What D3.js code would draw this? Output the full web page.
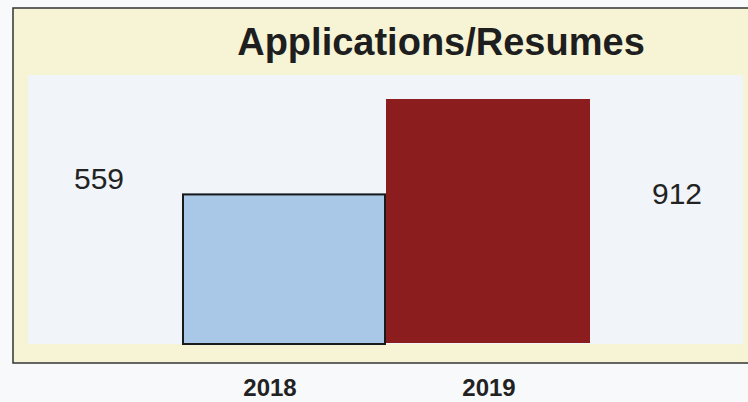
<!DOCTYPE html>
<html>
<head>
<meta charset="utf-8">
<script src="https://cdn.jsdelivr.net/npm/d3@7"></script>
<style>
  html, body { margin: 0; padding: 0; background: #f8f9fb; }
  svg { display: block; font-family: "Liberation Sans", Arial, sans-serif; }
</style>
</head>
<body>
<svg id="chart" width="748" height="402"></svg>
<script>
const categories = [ "2018", "2019" ];
const values = [ 559, 912 ];
const title = "Applications/Resumes";

const FRAME = { left: 13, top: 8, right: 760, bottom: 363 };
const PLOT = { left: 28, top: 75, right: 743, bottom: 343 };

const svg = d3.select( "#chart" );

// outer pale yellow frame
svg.append( "rect" )
  .attr( "x", FRAME.left )
  .attr( "y", FRAME.top )
  .attr( "width", FRAME.right - FRAME.left )
  .attr( "height", FRAME.bottom - FRAME.top )
  .attr( "fill", "#f7f4d6" )
  .attr( "stroke", "#333" )
  .attr( "stroke-width", 1.5 );

// plot area
svg.append( "rect" )
  .attr( "x", PLOT.left )
  .attr( "y", PLOT.top )
  .attr( "width", PLOT.right - PLOT.left )
  .attr( "height", PLOT.bottom - PLOT.top + 1 )
  .attr( "fill", "#f1f4f9" );

const x = d3.scaleBand()
  .domain( categories )
  .range( [ 182, 590 ] )
  .padding( 0 );

const y = d3.scaleLinear()
  .domain( [ 0, d3.max( values ) ] )
  .range( [ PLOT.bottom, 99 ] );

const data = categories.map( ( c, i ) => ( { cat: c, value: values[i] } ) );
const fills = [ "#a9c7e7", "#8c1d1e" ];

svg.selectAll( "rect.bar" )
  .data( data )
  .join( "rect" )
  .attr( "class", "bar" )
  .attr( "x", d => x( d.cat ) )
  .attr( "y", d => y( d.value ) )
  .attr( "width", x.bandwidth() )
  .attr( "height", d => y( 0 ) - y( d.value ) )
  .attr( "fill", ( d, i ) => fills[i] );

// only the 2018 bar has a dark outline
svg.append( "rect" )
  .attr( "x", x( categories[0] ) + 1 )
  .attr( "y", y( values[0] ) + 1 )
  .attr( "width", x.bandwidth() - 2 )
  .attr( "height", y( 0 ) - y( values[0] ) )
  .attr( "fill", "none" )
  .attr( "stroke", "#1a1a1a" )
  .attr( "stroke-width", 2 );

// title
svg.append( "text" )
  .attr( "x", 441 )
  .attr( "y", 55 )
  .attr( "text-anchor", "middle" )
  .attr( "font-size", 38 )
  .attr( "font-weight", "bold" )
  .attr( "fill", "#1e1e1e" )
  .text( title );

// value labels sit outside the bars
const valueX = d3.scalePoint().domain( categories ).range( [ 99, 677 ] );
const valueY = [ y( values[0] ) - 4, y( values[1] ) + 105 ];
svg.selectAll( "text.value" )
  .data( data )
  .join( "text" )
  .attr( "class", "value" )
  .attr( "x", d => valueX( d.cat ) )
  .attr( "y", ( d, i ) => valueY[i] )
  .attr( "text-anchor", "middle" )
  .attr( "font-size", 30 )
  .attr( "fill", "#222" )
  .text( d => d.value );

// category labels below the frame
const labelX = d3.scalePoint().domain( categories ).range( [ 270, 489 ] );
svg.selectAll( "text.cat" )
  .data( categories )
  .join( "text" )
  .attr( "class", "cat" )
  .attr( "x", d => labelX( d ) )
  .attr( "y", 396 )
  .attr( "text-anchor", "middle" )
  .attr( "font-size", 24 )
  .attr( "font-weight", "bold" )
  .attr( "fill", "#222" )
  .text( d => d );
</script>
</body>
</html>
